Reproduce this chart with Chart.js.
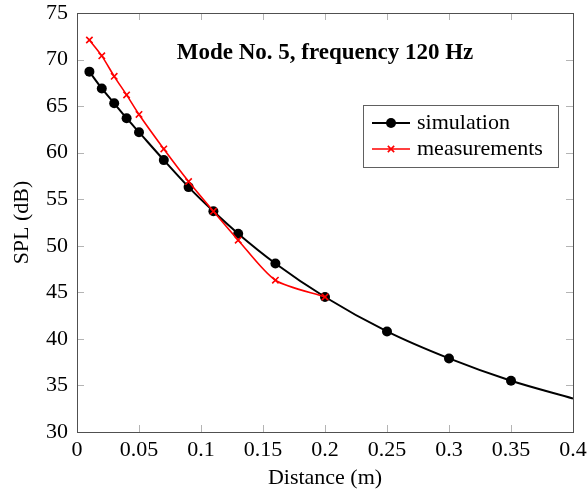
<!DOCTYPE html>
<html>
<head>
<meta charset="utf-8">
<script src="https://cdn.jsdelivr.net/npm/chart.js@4"></script>
<style>
  html, body { margin: 0; padding: 0; background: #fff; }
  #wrap { width: 588px; height: 494px; }
</style>
</head>
<body>
<div id="wrap"><canvas id="chart" width="588" height="494"></canvas></div>
<script>
// values
const simDistance = [0.01, 0.02, 0.03, 0.04, 0.05, 0.07, 0.09, 0.11, 0.13, 0.16, 0.2, 0.25, 0.3, 0.35, 0.4];
const simulation = [68.7, 66.9, 65.3, 63.7, 62.2, 59.2, 56.3, 53.7, 51.3, 48.1, 44.5, 40.8, 37.9, 35.5, 33.6];
const measDistance = [0.01, 0.02, 0.03, 0.04, 0.05, 0.07, 0.09, 0.11, 0.13, 0.16, 0.2];
const measurements = [72.1, 70.4, 68.2, 66.2, 64.1, 60.4, 56.9, 53.7, 50.6, 46.3, 44.5];
const xTickLabels = ["0", "0.05", "0.1", "0.15", "0.2", "0.25", "0.3", "0.35", "0.4"];
const yTickLabels = ["30", "35", "40", "45", "50", "55", "60", "65", "70", "75"];
const seriesNames = ["simulation", "measurements"];
const titleText = "Mode No. 5, frequency 120 Hz";

const serif = "'Liberation Serif', 'DejaVu Serif', serif";

function toPoints(xs, ys) {
    let pts = [];
    for (let i = 0; i < xs.length; i++) pts.push({x: xs[i], y: ys[i]});
    return pts;
}

// box, inward ticks, title and legend like pgfplots
const framePlugin = {
    id: "frame",
    beforeDatasetsDraw(chart) {
        const ctx = chart.ctx;
        const a = chart.chartArea;
        const xs = chart.scales.x;
        const ys = chart.scales.y;
        const len = 7;
        ctx.save();
        ctx.strokeStyle = "#b4b4b4";
        ctx.lineWidth = 1;
        ctx.beginPath();
        xs.ticks.forEach((t) => {
            const px = Math.round(xs.getPixelForValue(t.value)) + 0.5;
            ctx.moveTo(px, a.bottom); ctx.lineTo(px, a.bottom - len);
            ctx.moveTo(px, a.top); ctx.lineTo(px, a.top + len);
        });
        ys.ticks.forEach((t) => {
            const py = Math.round(ys.getPixelForValue(t.value)) + 0.5;
            ctx.moveTo(a.left, py); ctx.lineTo(a.left + len, py);
            ctx.moveTo(a.right, py); ctx.lineTo(a.right - len, py);
        });
        ctx.stroke();
        ctx.restore();
    },
    afterDraw(chart) {
        const ctx = chart.ctx;
        const a = chart.chartArea;
        ctx.save();
        ctx.strokeStyle = "#505050";
        ctx.lineWidth = 1;
        ctx.strokeRect(Math.round(a.left) + 0.5, Math.round(a.top) + 0.5,
            Math.round(a.right - a.left), Math.round(a.bottom - a.top));

        // title inside the plot
        ctx.fillStyle = "#000";
        ctx.font = "bold 23px " + serif;
        ctx.textAlign = "center";
        ctx.textBaseline = "alphabetic";
        ctx.fillText(titleText, 325, 59);

        // legend box
        ctx.fillStyle = "#fff";
        ctx.fillRect(363, 105, 195, 62);
        ctx.strokeStyle = "#606060";
        ctx.strokeRect(363.5, 105.5, 195, 62);

        const rows = [129, 155];
        const ds = chart.data.datasets;
        for (let i = 0; i < 2; i++) {
            const cy = rows[i] - 6;
            ctx.strokeStyle = ds[i].borderColor;
            ctx.lineWidth = ds[i].borderWidth;
            ctx.beginPath();
            ctx.moveTo(372, cy); ctx.lineTo(410, cy);
            ctx.stroke();
            if (i === 0) {
                ctx.fillStyle = "#000";
                ctx.beginPath();
                ctx.arc(391, cy, 5, 0, Math.PI * 2);
                ctx.fill();
            } else {
                Chart.helpers.drawPoint(ctx, {
                    pointStyle: ds[i].pointStyle,
                    radius: 4.5,
                    borderWidth: ds[i].borderWidth
                }, 391, cy);
            }
            ctx.fillStyle = "#000";
            ctx.font = "22px " + serif;
            ctx.textAlign = "left";
            ctx.textBaseline = "alphabetic";
            ctx.fillText(seriesNames[i], 417, rows[i]);
        }
        ctx.restore();
    }
};

const chart = new Chart(document.getElementById("chart"), {
    type: "line",
    data: {
        datasets: [{
            label: seriesNames[0],
            data: toPoints(simDistance, simulation),
            borderColor: "#000",
            backgroundColor: "#000",
            borderWidth: 2,
            pointStyle: "circle",
            pointRadius: (c) => c.dataIndex === simDistance.length - 1 ? 0 : 5,
            pointBorderWidth: 0,
            cubicInterpolationMode: "monotone",
            order: 2
        }, {
            label: seriesNames[1],
            data: toPoints(measDistance, measurements),
            borderColor: "#ff0000",
            backgroundColor: "#ff0000",
            borderWidth: 1.6,
            pointStyle: "crossRot",
            pointRadius: 4.5,
            pointBorderWidth: 1.6,
            tension: 0.25,
            order: 1
        }]
    },
    options: {
        responsive: false,
        animation: false,
        devicePixelRatio: 1,
        layout: {padding: {top: 13, right: 15, left: 0, bottom: 0}},
        plugins: {
            legend: {display: false},
            tooltip: {enabled: false},
            title: {display: false}
        },
        scales: {
            x: {
                type: "linear",
                min: 0,
                max: 0.4,
                grid: {display: false, drawTicks: false},
                border: {display: false},
                ticks: {
                    stepSize: 0.05,
                    autoSkip: false,
                    maxRotation: 0,
                    padding: 5,
                    color: "#000",
                    font: {family: serif, size: 22},
                    callback: (v, i) => xTickLabels[i]
                },
                title: {
                    display: true,
                    text: "Distance (m)",
                    color: "#000",
                    font: {family: serif, size: 22},
                    padding: {top: 0, bottom: 3}
                },
                afterFit: (s) => {
                    s.height = 62;
                    s.paddingLeft = 0;
                    s.paddingRight = 0;
                }
            },
            y: {
                min: 30,
                max: 75,
                grid: {display: false, drawTicks: false},
                border: {display: false},
                ticks: {
                    stepSize: 5,
                    autoSkip: false,
                    padding: 9,
                    color: "#000",
                    font: {family: serif, size: 22},
                    callback: (v, i) => yTickLabels[i]
                },
                title: {
                    display: true,
                    text: "SPL (dB)",
                    color: "#000",
                    font: {family: serif, size: 22},
                    padding: {top: 9, bottom: 0}
                },
                afterFit: (s) => {
                    s.width = 77;
                    s.paddingTop = 0;
                    s.paddingBottom = 0;
                }
            }
        }
    },
    plugins: [framePlugin]
});
</script>
</body>
</html>
